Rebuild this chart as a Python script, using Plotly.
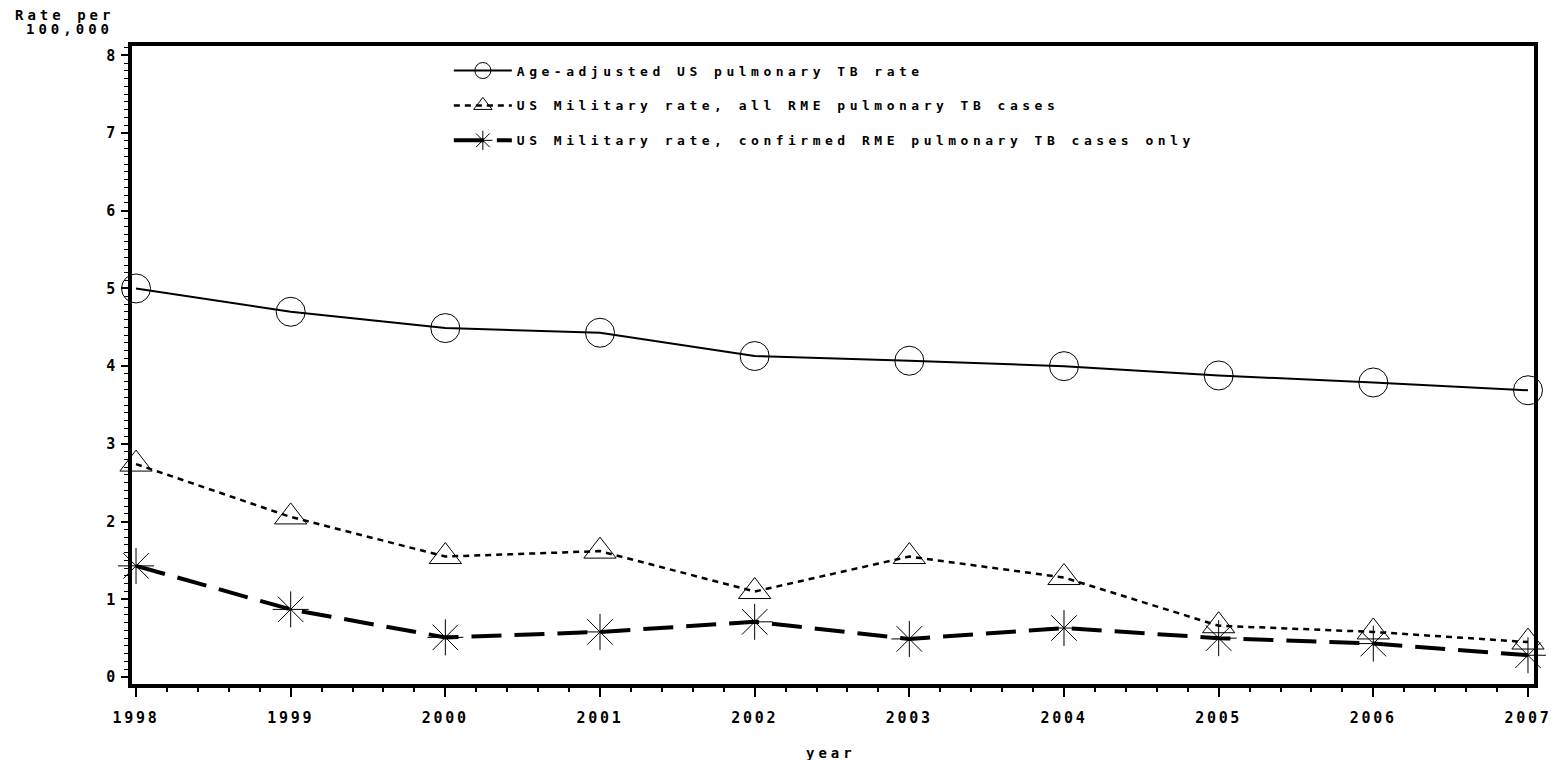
import plotly.graph_objects as go

years = [1998, 1999, 2000, 2001, 2002, 2003, 2004, 2005, 2006, 2007]
us_rate = [5.00, 4.70, 4.49, 4.43, 4.13, 4.07, 4.00, 3.88, 3.79, 3.69]
mil_all = [2.74, 2.06, 1.55, 1.62, 1.10, 1.55, 1.28, 0.66, 0.58, 0.45]
mil_conf = [1.43, 0.87, 0.51, 0.58, 0.71, 0.49, 0.63, 0.50, 0.43, 0.28]

names = [
    "Age-adjusted US pulmonary TB rate",
    "US Military rate, all RME pulmonary TB cases",
    "US Military rate, confirmed RME pulmonary TB cases only",
]
y_ticks = [0, 1, 2, 3, 4, 5, 6, 7, 8]

FONT = "DejaVu Sans Mono"

fig = go.Figure()
fig.add_trace(go.Scatter(
    x=years, y=us_rate, name=names[0], mode="lines+markers", legendgroup="a",
    line=dict(color="black", width=2),
    marker=dict(symbol="circle-open", size=29, color="black", line=dict(width=1)),
    cliponaxis=False,
))
fig.add_trace(go.Scatter(
    x=years, y=mil_all, name=names[1], mode="lines+markers", legendgroup="b",
    line=dict(color="black", width=2.5, dash="6px,5px"),
    marker=dict(symbol="triangle-up-open", size=28, color="black", line=dict(width=1)),
    cliponaxis=False,
))
fig.add_trace(go.Scatter(
    x=years, y=mil_conf, name=names[2], mode="lines+markers", legendgroup="c",
    line=dict(color="black", width=4, dash="30px,13px"),
    marker=dict(symbol="asterisk-open", size=30, color="black", line=dict(width=1)),
    cliponaxis=False,
))

fig.update_layout(
    width=1558, height=760,
    margin=dict(l=132, r=22, t=46, b=76),
    paper_bgcolor="white", plot_bgcolor="white",
    font=dict(family=FONT, size=14, color="black", weight="bold"),
    showlegend=True,
    legend=dict(
        x=0.226, y=0.985, xanchor="left", yanchor="top",
        bgcolor="rgba(0,0,0,0)", borderwidth=0,
        font=dict(family=FONT, size=13, color="black", weight="bold"),
        traceorder="grouped", tracegroupgap=15, itemwidth=58,
    ),
    xaxis=dict(
        range=[1997.974, 2007.039], tickmode="array", tickvals=years,
        ticktext=[str(y) for y in years],
        showgrid=False, zeroline=False,
        showline=True, linecolor="black", linewidth=4, mirror=True,
        ticks="outside", ticklen=9, tickwidth=1.5, tickcolor="black",
        ticklabelstandoff=8,
        minor=dict(dtick=0.2, tick0=1998, ticks="outside", ticklen=4, tickwidth=1.5, tickcolor="black"),
        tickfont=dict(family=FONT, size=15, color="black", weight="bold"),
    ),
    yaxis=dict(
        range=[-0.09, 8.12], tickmode="array", tickvals=y_ticks,
        showgrid=False, zeroline=False,
        showline=True, linecolor="black", linewidth=4, mirror=True,
        ticks="outside", ticklen=7, tickwidth=1.5, tickcolor="black",
        minor=dict(dtick=0.1, tick0=0, ticks="outside", ticklen=4, tickwidth=1, tickcolor="black"),
        tickfont=dict(family=FONT, size=15, color="black", weight="bold"),
    ),
    annotations=[
        dict(text="Rate per", xref="paper", yref="paper", x=-0.0228, y=(684 - 15) / 638,
             xanchor="right", yanchor="middle", showarrow=False,
             font=dict(family=FONT, size=14, color="black", weight="bold")),
        dict(text="100,000", xref="paper", yref="paper", x=-0.022, y=(684 - 29) / 638,
             xanchor="right", yanchor="middle", showarrow=False,
             font=dict(family=FONT, size=14, color="black", weight="bold")),
        dict(text="year", xref="paper", yref="paper", x=0.4985, y=(684 - 753) / 638,
             xanchor="center", yanchor="middle", showarrow=False,
             font=dict(family=FONT, size=14, color="black", weight="bold")),
    ],
)

post = """
(function(){
  function sp(){
    var gd = document.getElementById('{plot_id}');
    if(!gd) return;
    gd.querySelectorAll('text').forEach(function(t){
      if (t.classList.contains('legendtext')) { t.style.letterSpacing = '4.5px'; }
      else if (t.classList.contains('annotation-text')) { t.style.letterSpacing = '4px'; }
      else { t.style.letterSpacing = '2.7px'; }
    });
    gd.querySelectorAll('.legend [clip-path]').forEach(function(e){ e.removeAttribute('clip-path'); });
  }
  sp();
  setTimeout(sp, 0);
  setTimeout(sp, 200);
  var gd = document.getElementById('{plot_id}');
  if (gd && gd.on) gd.on('plotly_afterplot', sp);
})();
"""

fig.write_html("out.html", post_script=post)
